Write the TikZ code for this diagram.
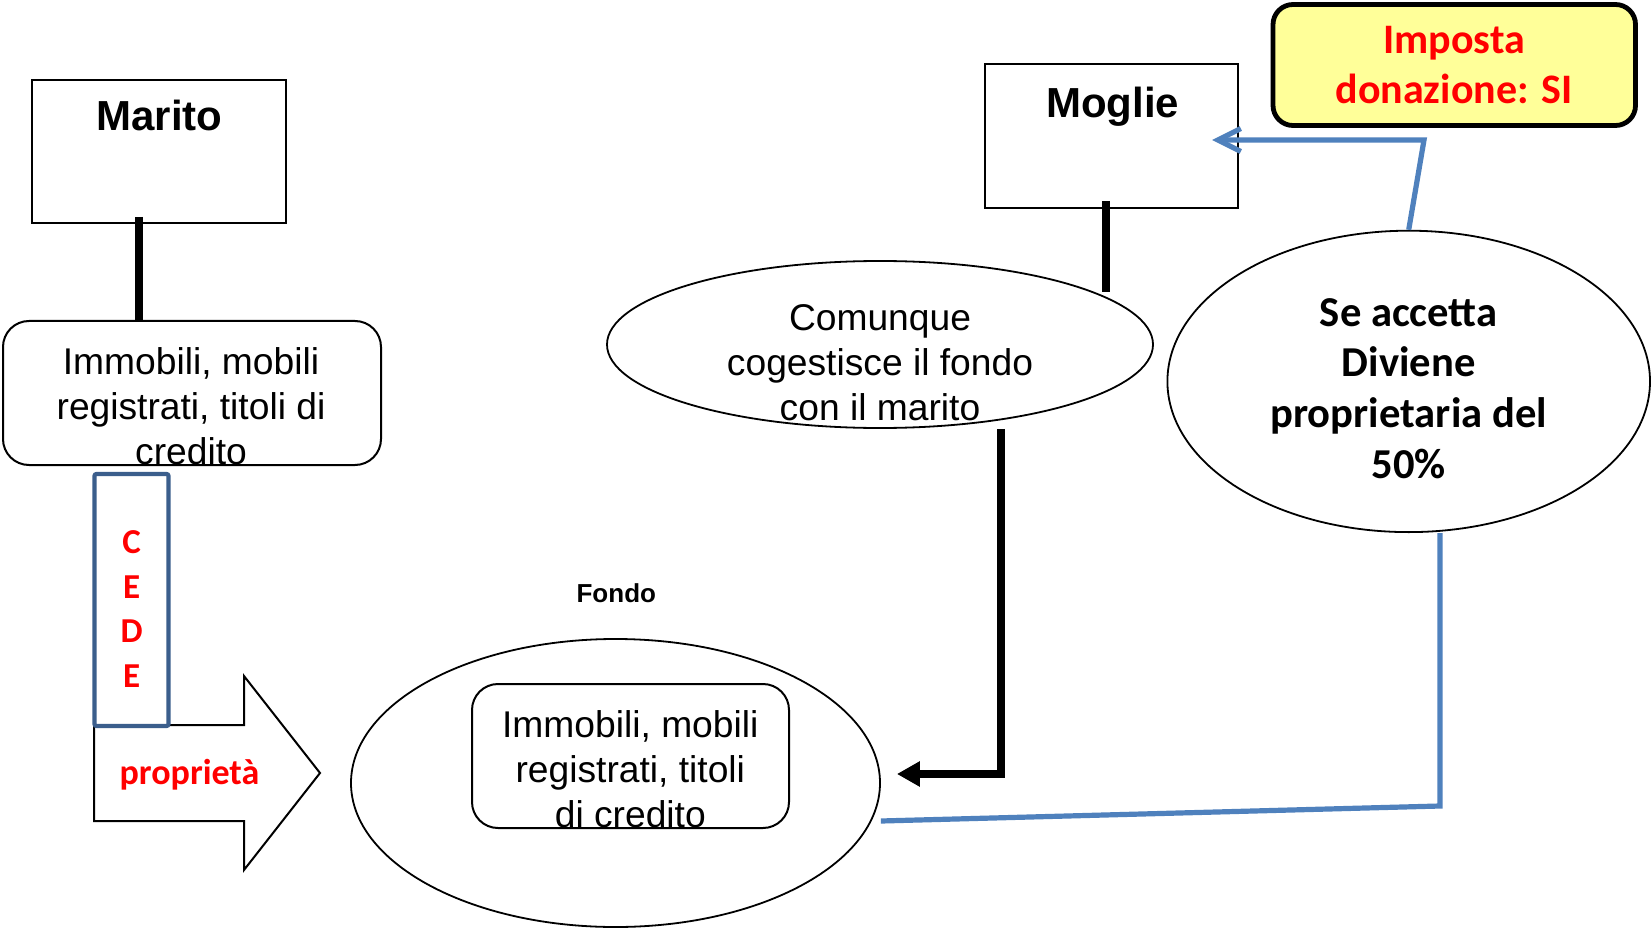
\documentclass[tikz,border=0pt]{standalone}
\usepackage{fontspec}
\setmainfont{Liberation Sans}
\newfontfamily\bodyfont{Liberation Sans}
\newfontfamily\calfont{Carlito}
\usetikzlibrary{shapes.geometric,arrows.meta}

\definecolor{flowblue}{RGB}{79,129,189}
\definecolor{cedeblue}{RGB}{59,94,140}
\definecolor{alertred}{RGB}{255,0,0}
\definecolor{noteyellow}{RGB}{255,255,153}

\tikzset{
  x=0.5pt, y=-0.5pt,
  plainbox/.style={draw, rectangle, line width=1pt, inner sep=0pt},
  softbox/.style={draw, rectangle, rounded corners=13pt, line width=1pt, inner sep=0pt},
  oval/.style={draw, ellipse, line width=0.9pt, inner sep=0pt},
  bodytext/.style={inner sep=0pt, align=center, font=\bodyfont\fontsize{18.6}{22.5}\selectfont},
  titletext/.style={inner sep=0pt, anchor=base, font=\bodyfont\bfseries\fontsize{21}{24}\selectfont},
  boldcal/.style={inner sep=0pt, align=center},
  link/.style={line width=3.8pt},
  bluelink/.style={draw=flowblue, line width=2.6pt},
}

\begin{document}
\begin{tikzpicture}
  \fill[white] (0,0) rectangle (1652,930);
  \useasboundingbox (0,0) rectangle (1652,930);

  % --- husband side ---
  \node[plainbox, minimum width=126.75pt, minimum height=71.5pt] (marito) at (158.75,151.5) {};
  \node[titletext] (maritotxt) at (159.5,130.8) {Marito};
  \node[softbox, minimum width=189pt, minimum height=72pt] (beni) at (192,393) {};
  \node[bodytext] (benitxt) at (191,406.5) {Immobili, mobili\\registrati, titoli di\\credito};
  \coordinate (mx) at (139,0);
  \draw[link] ([yshift=3.5pt]marito.south -| mx) -- (beni.north -| mx);

  % --- transfer arrow with the CEDE tag ---
  \draw[line width=1pt, fill=white] (94,725) -- (244,725) -- (244,676) -- (320,773)
        -- (244,870) -- (244,821) -- (94,821) -- cycle;
  \node[boldcal, text=alertred, anchor=base,
        font=\calfont\bfseries\fontsize{18}{22}\selectfont] (proprieta) at (189.5,784) {proprietà};
  \node[draw=cedeblue, line width=2.1pt, fill=white, rounded corners=1pt, inner sep=0pt,
        minimum width=37pt, minimum height=126pt] (cede) at (131.5,600) {};
  \node[boldcal, text=alertred, font=\calfont\bfseries\fontsize{17.5}{22.35}\selectfont]
        (cedetxt) at (131.7,609) {C\\E\\D\\E};

  % --- the fund ---
  \node[inner sep=0pt, anchor=base, font=\bfseries\fontsize{13}{15}\selectfont] (fondolbl) at (616.3,602.5) {Fondo};
  \node[oval, minimum width=264.5pt, minimum height=144pt] (fondo) at (615.5,783) {};
  \node[softbox, minimum width=158.5pt, minimum height=72pt] (benif) at (630.5,756) {};
  \node[bodytext] (benieftxt) at (630.3,769.4) {Immobili, mobili\\registrati, titoli\\di credito};

  % --- wife side ---
  \node[plainbox, minimum width=126.5pt, minimum height=72.25pt] (moglie) at (1111.5,136.25) {};
  \node[titletext] (mogliétxt) at (1112.5,117.3) {Moglie};
  \node[oval, minimum width=273pt, minimum height=83.5pt] (comunque) at (880,344.5) {};
  \node[bodytext] (comunquetxt) at (880,362.7) {Comunque\\cogestisce il fondo\\con il marito};
  \coordinate (wx) at (1106,0);
  \draw[link] ([yshift=4.25pt]moglie.south -| wx) -- ([yshift=-16pt]comunque.north -| wx);

  \coordinate (gx) at (1001,0);
  \coordinate (gy) at (1001,774);
  \draw[link, -{Triangle[length=11.5pt,width=12pt]}]
        (comunque.south -| gx) -- (gy) -- ([xshift=8pt]fondo.east |- gy);

  % --- acceptance and tax note ---
  \node[oval, minimum width=241.3pt, minimum height=150.7pt] (seacc) at (1408.7,381.4) {};
  \node[boldcal, font=\calfont\bfseries\fontsize{21.3}{25.3}\selectfont] (seacctxt) at (1408.7,388.5)
        {Se accetta\\Diviene\\proprietaria del\\50\%};
  \node[draw, fill=noteyellow, line width=2.4pt, rounded corners=10pt, inner sep=0pt,
        minimum width=181.25pt, minimum height=60.5pt] (imposta) at (1454.25,65) {};
  \node[boldcal, text=alertred, font=\calfont\bfseries\fontsize{21}{25}\selectfont]
        (impostatxt) at (1454,65.3) {Imposta\\donazione: SI};

  \coordinate (bt) at (1424,140);
  \draw[bluelink, -{Straight Barb[length=11.5pt,width=11.5pt]}]
        (seacc.north) -- (bt) -- ([xshift=-13.5pt]moglie.east |- bt);

  \coordinate (bb) at (1440,806);
  \draw[bluelink] (seacc.south -| bb) -- (bb) -- ([yshift=-19pt]fondo.east);
\end{tikzpicture}
\end{document}
